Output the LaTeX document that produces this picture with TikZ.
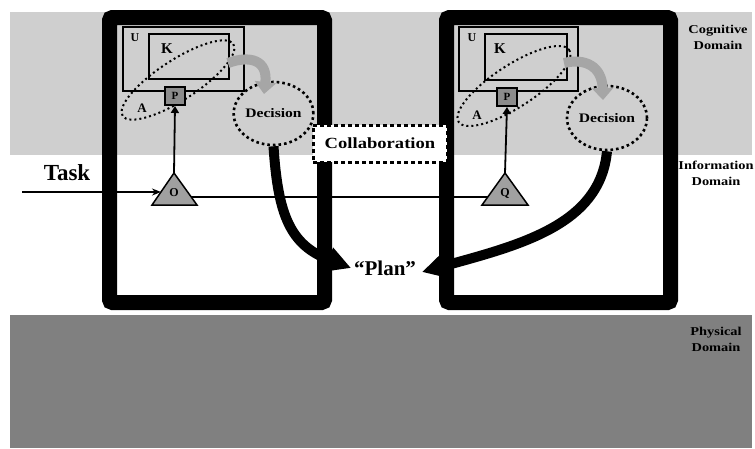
\documentclass[tikz,border=0pt]{standalone}
\usepackage{fontspec}
\setmainfont{Liberation Serif}
\newfontfamily\widefont{Liberation Serif}[FakeStretch=1.2]
\usetikzlibrary{arrows.meta,shapes.geometric}
\definecolor{cogn}{HTML}{CFCFCF}
\definecolor{phys}{HTML}{808080}
\definecolor{trig}{HTML}{A0A0A0}
\definecolor{garrow}{HTML}{A6A6A6}
\definecolor{pgray}{HTML}{8C8C8C}
\tikzset{
  agentframe/.style={draw=black, line width=15pt, rounded corners=3pt, inner sep=0pt},
  rectbox/.style={draw=black, line width=1.6pt, inner sep=0pt},
  decbox/.style={ellipse, draw=black, line width=2.6pt, dash pattern=on 2.6pt off 3pt, inner sep=0pt, font=\widefont\bfseries\fontsize{13}{15}\selectfont},
  dotline/.style={draw=black, line width=2pt, dash pattern=on 2pt off 3pt},
  pbox/.style={draw=black, fill=pgray, line width=2pt, minimum width=20pt, minimum height=18pt, inner sep=0pt, font=\bfseries\fontsize{11}{12}\selectfont},
  tri/.style={draw=black, fill=trig, line width=1.5pt, line join=miter},
  thinline/.style={draw=black, line width=1.8pt},
  thickcurve/.style={draw=black, line width=10pt, -{Triangle[length=24pt,width=24pt]}},
  grayarrow/.style={draw=garrow, line width=10pt, -{Triangle[length=12pt,width=21pt]}},
  lbl/.style={inner sep=0pt, font=\bfseries\fontsize{13}{15}\selectfont},
  trilbl/.style={inner sep=0pt, font=\bfseries\fontsize{12}{13}\selectfont},
  domlbl/.style={align=center, inner sep=0pt, font=\widefont\bfseries\fontsize{12}{16}\selectfont},
  collab/.style={draw=black, fill=white, line width=3pt, dash pattern=on 4pt off 3pt, minimum width=134pt, minimum height=37pt, inner sep=0pt, font=\widefont\bfseries\fontsize{15.5}{17}\selectfont}
}
\begin{document}
\begin{tikzpicture}[x=1pt,y=-1pt]
\useasboundingbox (0,0) rectangle (755,448);
% bands
\fill[cogn] (10,12) rectangle (752,155);
\fill[white] (10,155) rectangle (752,315);
\fill[phys] (10,315) rectangle (752,448);

% ---------- left agent ----------
\node[rectbox, minimum width=121pt, minimum height=64pt] (uL) at (183.5,59) {};
\node[rectbox, minimum width=80pt, minimum height=45pt] (kL) at (189,56.5) {};
\node[lbl, font=\bfseries\fontsize{12}{14}\selectfont] (uLt) at (135,38) {U};
\node[lbl, font=\bfseries\fontsize{15}{17}\selectfont] (kLt) at (167,49) {K};
\draw[dotline, rotate around={33:(178,80)}] (178,80) ellipse [x radius=66, y radius=20];
\node[lbl] (aLt) at (142,108) {A};
\node[decbox, minimum width=77pt, minimum height=63pt] (decL) at (273.5,113.5) {Decision};
\coordinate (gLs) at (228,63);
\coordinate (gLe) at (264,94);
\draw[grayarrow] (gLs) .. controls (250,55) and (268,60) .. (gLe);
\node[pbox] (pL) at (175,96) {P};

% ---------- right agent ----------
\node[rectbox, minimum width=119pt, minimum height=64pt] (uR) at (518.5,59) {};
\node[rectbox, minimum width=82pt, minimum height=46pt] (kR) at (526,57) {};
\node[lbl, font=\bfseries\fontsize{12}{14}\selectfont] (uRt) at (472,38) {U};
\node[lbl, font=\bfseries\fontsize{15}{17}\selectfont] (kRt) at (500,49) {K};
\draw[dotline, rotate around={33:(514,86)}] (514,86) ellipse [x radius=66, y radius=21];
\node[lbl] (aRt) at (477,115) {A};
\node[decbox, minimum width=80pt, minimum height=64pt] (decR) at (607,118) {Decision};
\coordinate (gRs) at (564,63);
\coordinate (gRe) at (603,100);
\draw[grayarrow] (gRs) .. controls (585,58) and (602,66) .. (gRe);
\node[pbox] (pR) at (507,97) {P};

% ---------- triangles ----------
\coordinate (tLa) at (174,173);
\coordinate (tLr) at (191,197);
\coordinate (tLl) at (161,192);
\draw[tri] (174,173) -- (197,205) -- (152,205) -- cycle;
\node[trilbl] (oL) at (174,193) {O};
\coordinate (tRa) at (505,173);
\coordinate (tRl) at (488,197);
\draw[tri] (505,173) -- (528,205) -- (482,205) -- cycle;
\node[trilbl] (oR) at (505,193) {Q};

% connectors
\draw[thinline, -{Triangle[length=7pt,width=8pt]}] (tLa) -- (pL.south);
\draw[thinline, -{Triangle[length=7pt,width=8pt]}] (tRa) -- (pR.south);
\draw[thinline] (tLr) -- (tRl);
\coordinate (taskS) at (22,192);
\draw[thinline, -{Stealth[length=9pt,width=7pt]}] (taskS) -- (tLl);
\node[inner sep=0pt, font=\bfseries\fontsize{23}{26}\selectfont] (task) at (67,173) {Task};

% ---------- frames ----------
\node[agentframe, minimum width=215pt, minimum height=285pt] (boxL) at (217,160) {};
\node[agentframe, minimum width=224pt, minimum height=285pt] (boxR) at (558.5,160) {};

% ---------- plan ----------
\node[inner sep=0pt, font=\bfseries\fontsize{21}{24}\selectfont] (plan) at (385,268) {``Plan''};
\coordinate (planL) at (351,268);
\coordinate (planR) at (422,272);
\draw[thickcurve] (decL.south) .. controls (278,215) and (290,245) .. (planL);
\draw[thickcurve] (decR.south) .. controls (600,225) and (520,245) .. (planR);

% ---------- collaboration ----------
\node[collab] (collab) at (380,143.5) {\raisebox{-3pt}{Collaboration}};

% ---------- domains ----------
\node[domlbl] (cogd) at (718,37) {Cognitive\\Domain};
\node[domlbl] (infd) at (716,173) {Information\\Domain};
\node[domlbl] (phyd) at (716,339) {Physical\\Domain};
\end{tikzpicture}
\end{document}
